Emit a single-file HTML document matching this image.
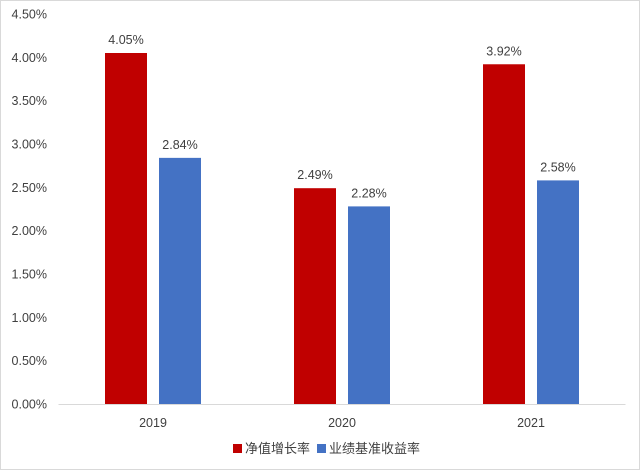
<!DOCTYPE html>
<html><head><meta charset="utf-8"><style>
html,body{margin:0;padding:0;background:#fff;}
svg{display:block;font-family:"Liberation Sans","Noto Sans CJK SC",sans-serif;}
</style></head><body>
<svg id="chart" width="640" height="470" viewBox="0 0 640 470" xmlns="http://www.w3.org/2000/svg">
<rect x="0.5" y="0.5" width="639" height="469" fill="#fff" stroke="#d9d9d9"/>
<g id="yaxis"></g>
<g id="bars"></g>
<g id="xaxis"></g>
<g>
<rect x="233" y="444" width="9" height="9" fill="#c00000"/>
<text x="245" y="453" font-size="13" fill="#404040">净值增长率</text>
<rect x="317" y="444" width="9" height="9" fill="#4472c4"/>
<text x="329" y="453" font-size="13" fill="#404040">业绩基准收益率</text>
</g>
</svg>
<script>
const categories=["2019","2020","2021"];
const navGrowth=[4.05,2.49,3.92];
const benchmark=[2.84,2.28,2.58];
const yTicks=[0,0.5,1,1.5,2,2.5,3,3.5,4,4.5];
const NS="http://www.w3.org/2000/svg";
const left=58.5,right=625.5,y0=404,ymax=4.5,ytop=14;
const y=v=>y0-(v/ymax)*(y0-ytop);
const bw=(right-left)/categories.length;
const xc=i=>left+bw*(i+0.5);
function mk(tag,attrs,parent){const e=document.createElementNS(NS,tag);for(const k in attrs)e.setAttribute(k,attrs[k]);parent.appendChild(e);return e;}
const ya=document.getElementById('yaxis'),bars=document.getElementById('bars'),xa=document.getElementById('xaxis');
yTicks.forEach(t=>{const e=mk('text',{x:47,y:y(t)+4.5,'text-anchor':'end','font-size':'12.5',fill:'#404040'},ya);e.textContent=t.toFixed(2)+'%';

});
const ax=mk('line',{x1:left,x2:right,y1:y0+0.5,y2:y0+0.5,stroke:'#d9d9d9','stroke-width':1},xa);


const barW=42,gap=12;
categories.forEach((c,i)=>{
 const cx=xc(i);
 const series=[[navGrowth[i],'#c00000',cx-gap/2-barW,'bar-nav-'+c],[benchmark[i],'#4472c4',cx+gap/2,'bar-benchmark-'+c]];
 series.forEach(([v,col,x,name])=>{
  const r=mk('rect',{x:x,y:y(v),width:barW,height:y0-y(v),fill:col},bars);
  
  
  const t=mk('text',{x:x+barW/2,y:y(v)-9,'text-anchor':'middle','font-size':'12.5',fill:'#404040'},bars);
  t.textContent=v.toFixed(2)+'%';
  
  
 });
 const xl=mk('text',{x:cx,y:427,'text-anchor':'middle','font-size':'12.5',fill:'#404040'},xa);
 xl.textContent=c;
 
 
});
</script>
</body></html>
